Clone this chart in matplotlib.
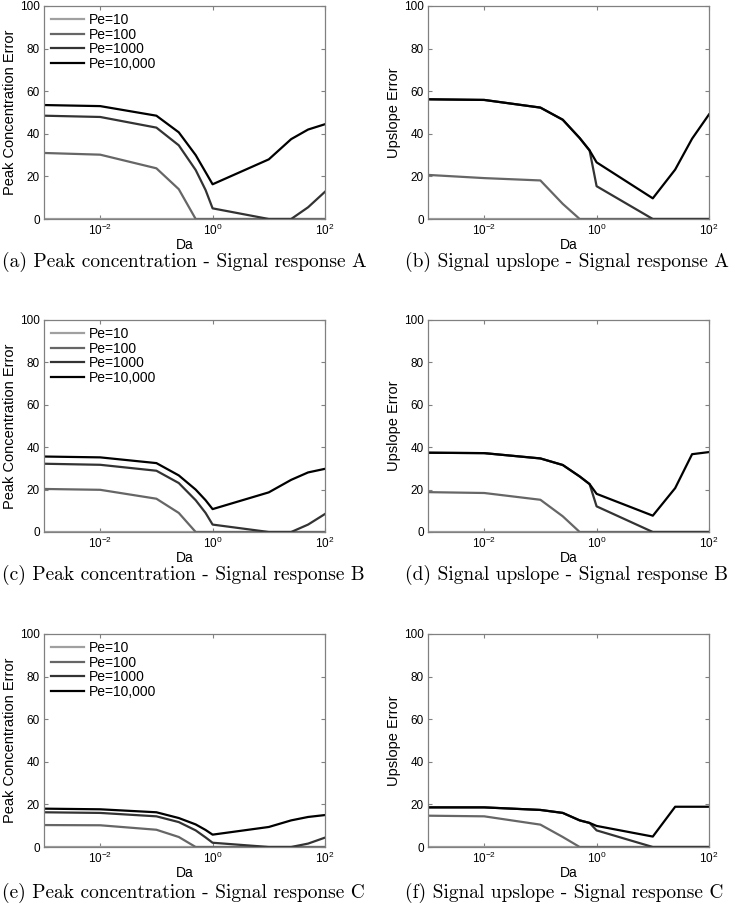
import matplotlib
matplotlib.use('Agg')
from matplotlib import pyplot as plt

plt.rcParams['font.family'] = ['Liberation Sans', 'DejaVu Sans']

da = [0.001, 0.01, 0.1, 0.25, 0.5, 0.75, 1, 10, 25, 50, 100]
pe_labels = ['Pe=10', 'Pe=100', 'Pe=1000', 'Pe=10,000']
pe_colors = ['#a0a0a0', '#666666', '#333333', '#000000']

zeros = [0, 0, 0, 0, 0, 0, 0, 0, 0, 0, 0]

# (a) peak concentration, response A
peak_a_pe10 = zeros
peak_a_pe100 = [31, 30.2, 23.8, 14, 0, 0, 0, 0, 0, 0, 0]
peak_a_pe1000 = [48.5, 47.9, 42.9, 34.6, 23, 13.6, 5, 0, 0, 5.5, 12.8]
peak_a_pe10000 = [53.5, 53, 48.5, 40.7, 30, 22, 16.3, 28, 37.5, 42, 44.5]

# (b) upslope, response A
up_a_pe10 = zeros
up_a_pe100 = [20.7, 19.2, 18.1, 7.1, 0, 0, 0, 0, 0, 0, 0]
up_a_pe1000 = [56.2, 55.9, 52.3, 46.6, 38, 32.2, 15.4, 0, 0, 0, 0]
up_a_pe10000 = [56.2, 55.9, 52.3, 46.6, 38, 32.2, 26.6, 9.7, 23.2, 37.7, 49.1]

# (c) peak concentration, response B
peak_b_pe10 = zeros
peak_b_pe100 = [20.3, 19.9, 15.7, 9, 0, 0, 0, 0, 0, 0, 0]
peak_b_pe1000 = [32.2, 31.7, 28.9, 23.1, 15, 9, 3.5, 0, 0, 3.5, 8.5]
peak_b_pe10000 = [35.6, 35.2, 32.5, 26.7, 20, 15, 10.8, 18.7, 24.6, 28.1, 29.8]

# (d) upslope, response B
up_b_pe10 = zeros
up_b_pe100 = [18.8, 18.4, 15.2, 7.4, 0, 0, 0, 0, 0, 0, 0]
up_b_pe1000 = [37.4, 37.2, 34.7, 31.6, 26.2, 22.6, 12.1, 0, 0, 0, 0]
up_b_pe10000 = [37.4, 37.2, 34.7, 31.6, 26.2, 22.6, 18, 7.7, 20.7, 36.7, 37.7]

# (e) peak concentration, response C
peak_c_pe10 = zeros
peak_c_pe100 = [10.3, 10.2, 8.1, 4.7, 0, 0, 0, 0, 0, 0, 0]
peak_c_pe1000 = [16.3, 16, 14.4, 11.7, 7.8, 4.5, 2, 0, 0, 1.6, 4.4]
peak_c_pe10000 = [18, 17.7, 16.3, 13.6, 10.6, 8, 5.8, 9.4, 12.5, 14.1, 15]

# (f) upslope, response C
up_c_pe10 = zeros
up_c_pe100 = [14.7, 14.4, 10.5, 4.7, 0, 0, 0, 0, 0, 0, 0]
up_c_pe1000 = [18.6, 18.6, 17.4, 16, 12.5, 11.3, 7.8, 0, 0, 0, 0]
up_c_pe10000 = [18.6, 18.6, 17.4, 16, 12.5, 11.3, 9.9, 4.9, 18.9, 18.9, 18.9]

captions = [
    '(a) Peak concentration - Signal response A',
    '(b) Signal upslope - Signal response A',
    '(c) Peak concentration - Signal response B',
    '(d) Signal upslope - Signal response B',
    '(e) Peak concentration - Signal response C',
    '(f) Signal upslope - Signal response C',
]

panels = [
    ([peak_a_pe10, peak_a_pe100, peak_a_pe1000, peak_a_pe10000], 'Peak Concentration Error', True),
    ([up_a_pe10, up_a_pe100, up_a_pe1000, up_a_pe10000], 'Upslope Error', False),
    ([peak_b_pe10, peak_b_pe100, peak_b_pe1000, peak_b_pe10000], 'Peak Concentration Error', True),
    ([up_b_pe10, up_b_pe100, up_b_pe1000, up_b_pe10000], 'Upslope Error', False),
    ([peak_c_pe10, peak_c_pe100, peak_c_pe1000, peak_c_pe10000], 'Peak Concentration Error', True),
    ([up_c_pe10, up_c_pe100, up_c_pe1000, up_c_pe10000], 'Upslope Error', False),
]

W, H = 735, 911
fig = plt.figure(figsize=(W / 100, H / 100), dpi=100)

# axes boxes in pixels: left, right, top, bottom
cols = [(44, 325), (428, 709)]
rows = [(6, 219), (320, 532), (634, 847)]
caption_y = [262, 575, 893]
caption_x = [2, 405]

for i, (series, ylabel, show_legend) in enumerate(panels):
    r, c = divmod(i, 2)
    l, rt = cols[c]
    t, b = rows[r]
    ax = fig.add_axes([l / W, 1 - b / H, (rt - l) / W, (b - t) / H])
    for vals, lab, col in zip(series, pe_labels, pe_colors):
        ax.plot(da, vals, color=col, lw=1.6, label=lab)
    ax.set_xscale('log')
    ax.set_xlim(1e-3, 1e2)
    ax.set_ylim(0, 100)
    ax.set_xticks([1e-2, 1e0, 1e2])
    ax.minorticks_off()
    ax.set_yticks([0, 20, 40, 60, 80, 100])
    ax.tick_params(direction='in', top=True, right=True, labelsize=8.5, length=3,
                   color='#808080', pad=3)
    for sp in ax.spines.values():
        sp.set_color('#808080')
        sp.set_linewidth(0.9)
    ax.set_xlabel('Da', fontsize=10, labelpad=0)
    ax.set_ylabel(ylabel, fontsize=10.5, labelpad=2)
    if show_legend:
        ax.legend(loc='upper left', frameon=False, fontsize=10, handlelength=2.4,
                  labelspacing=0.05, handletextpad=0.3, borderaxespad=0.2,
                  borderpad=0.3)
    fig.text(caption_x[c] / W, 1 - caption_y[r] / H, captions[i], fontfamily='cmr10',
             fontsize=14, va='center', ha='left')

fig.savefig('out.png', dpi=100)
